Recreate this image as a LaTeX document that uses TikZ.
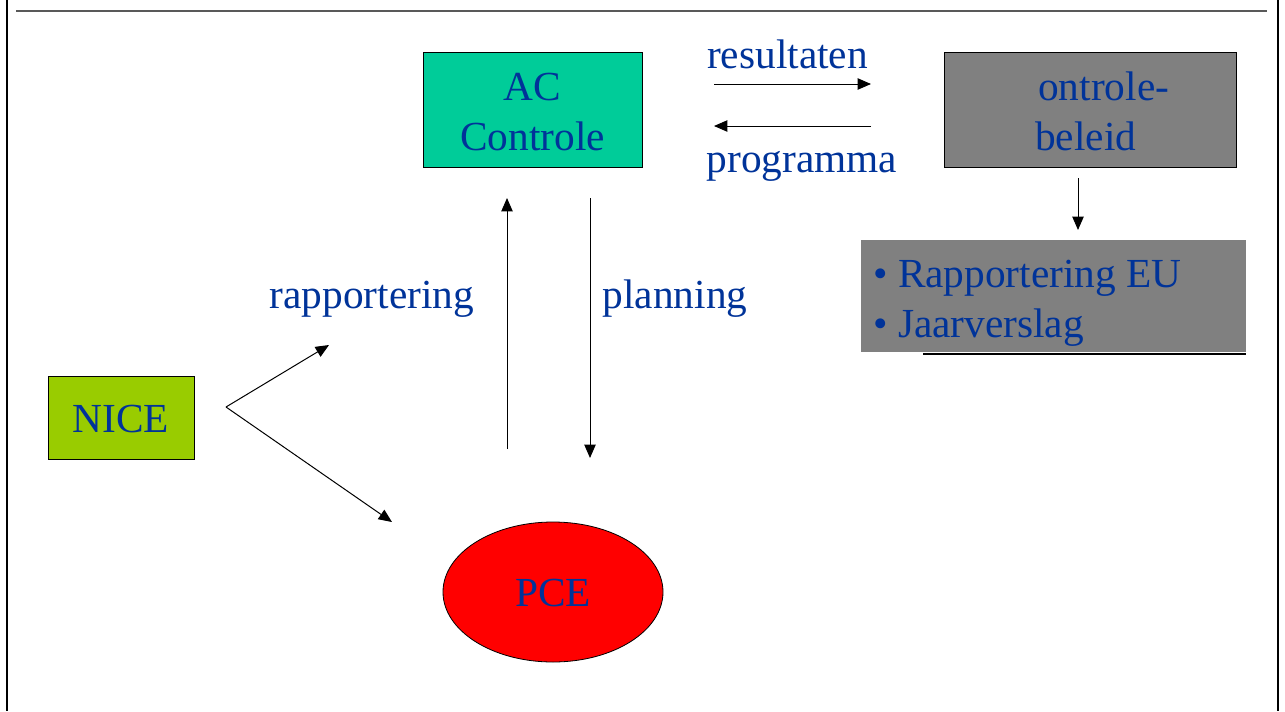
\documentclass[tikz,border=0pt]{standalone}
\usepackage{fontspec}
\setmainfont{Liberation Serif}
\usetikzlibrary{arrows.meta,shapes.geometric}
\definecolor{txtblue}{RGB}{0,51,153}
\definecolor{teal1}{RGB}{0,204,153}
\definecolor{lime1}{RGB}{153,204,0}
\definecolor{gray1}{RGB}{128,128,128}
\tikzset{
  box/.style={draw=black, line width=0.6pt, inner sep=0pt},
  lbl/.style={text=txtblue, font=\fontsize{31}{37.5}\selectfont, inner sep=0pt, anchor=base},
  arr/.style={line width=0.75pt, -{Triangle[length=10pt,width=8.5pt]}},
}
\begin{document}
\begin{tikzpicture}[x=0.75pt,y=-0.75pt]
\useasboundingbox (0,0) rectangle (1285,711);
% frame
\draw[line width=2pt] (7,0) -- (7,711);
\draw[line width=2pt] (1278,0) -- (1278,711);
\draw[line width=1.2pt, color=black!65] (16,11) -- (1267,11);

% boxes
\node[box, fill=teal1, minimum width=164.25pt, minimum height=86.25pt] (ac) at (532.5,109.5) {};
\node[box, fill=gray1, minimum width=219pt, minimum height=86.25pt] (ob) at (1090,109.5) {};
\node[box, fill=lime1, minimum width=109.5pt, minimum height=62.25pt] (nice) at (121,417.5) {};
\node[ellipse, draw=black, line width=0.6pt, fill=red, minimum width=165pt, minimum height=105pt, inner sep=0pt] (pce) at (553,592) {};
\node[fill=gray1, minimum width=288.75pt, minimum height=84pt, inner sep=0pt] (eu) at (1053.5,296) {};
\coordinate (eubl) at (923,354);
\coordinate (eubr) at (1246,354);
\draw[line width=0.8pt] (eubl) -- (eubr);

% box texts
\node[lbl] (actext1) at (532.5,100) {AC};
\node[lbl] (actext2) at (532.5,150) {Controle};
\node[lbl, anchor=base west] (obtext1) at (1038,100) {ontrole-};
\node[lbl, anchor=base west] (obtext2) at (1035,150) {beleid};
\node[lbl] (nicetext) at (121,432) {NICE};
\node[lbl] (pcetext) at (553,606) {PCE};
\node[lbl, anchor=base west] (eutext1) at (873,287) {\textbullet\ Rapportering EU};
\node[lbl, anchor=base west] (eutext2) at (873,337) {\textbullet\ Jaarverslag};

% edge labels
\node[lbl] (res) at (787.5,68) {resultaten};
\node[lbl] (prog) at (802,172) {programma};
\node[lbl] (rap) at (372,308) {rapportering};
\node[lbl] (plan) at (675,308) {planning};

% connector coordinates
\coordinate (r1) at (714,84);
\coordinate (r2) at (871,84);
\coordinate (p1) at (871,126);
\coordinate (p2) at (714,126);
\coordinate (up1) at (507,449);
\coordinate (up2) at (507,198);
\coordinate (dn1) at (590,198);
\coordinate (dn2) at (590,458);
\coordinate (ob1) at (1078,178);
\coordinate (ob2) at (1078,230);
\coordinate (nv) at (226,407);
\coordinate (na) at (329,345);
\coordinate (nb) at (392,522);

% connectors
\draw[arr] (r1) -- (r2);
\draw[arr] (p1) -- (p2);
\draw[arr] (up1) -- (up2);
\draw[arr] (dn1) -- (dn2);
\draw[arr] (ob1) -- (ob2);
\draw[arr] (nv) -- (na);
\draw[arr] (nv) -- (nb);
\end{tikzpicture}
\end{document}
